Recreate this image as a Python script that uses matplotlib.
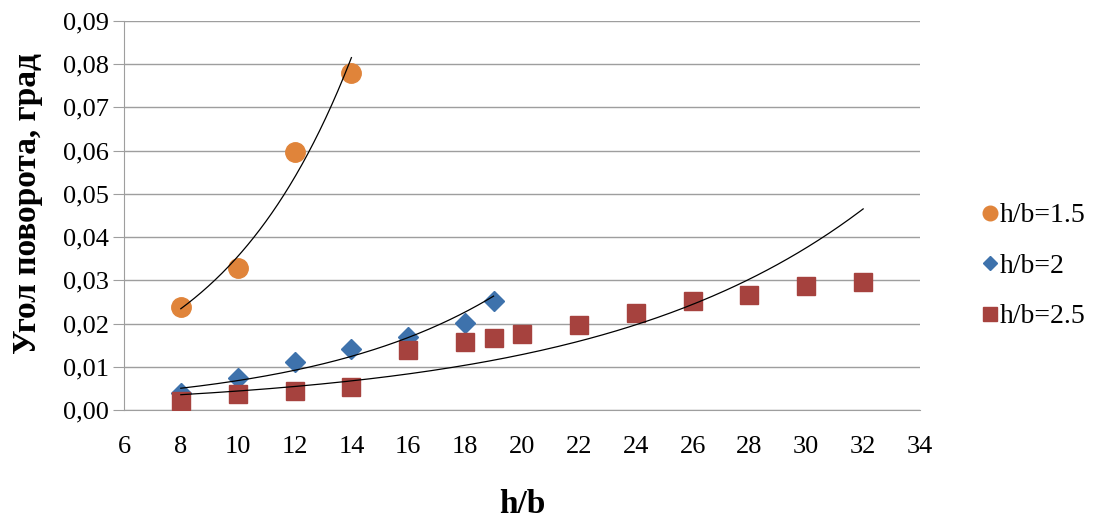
import matplotlib.pyplot as plt
import numpy as np

# h/b = 1.5
x_15 = [8, 10, 12, 14]
y_15 = [0.0238, 0.0329, 0.0597, 0.0780]

# h/b = 2
x_20 = [8, 10, 12, 14, 16, 18, 19]
y_20 = [0.0040, 0.0073, 0.0111, 0.0141, 0.0169, 0.0201, 0.0251]

# h/b = 2.5
x_25 = [8, 10, 12, 14, 16, 18, 19, 20, 22, 24, 26, 28, 30, 32]
y_25 = [0.0021, 0.0036, 0.0044, 0.0054, 0.0139, 0.0158, 0.0167, 0.0176,
        0.0196, 0.0225, 0.0252, 0.0265, 0.0288, 0.0297]

SERIES = [
    ("h/b=1.5", x_15, y_15, "o", "#E0843A", 14),
    ("h/b=2", x_20, y_20, "D", "#3E72AC", 10),
    ("h/b=2.5", x_25, y_25, "s", "#A6423E", 13),
]

plt.rcParams["font.family"] = ["Liberation Serif", "DejaVu Serif"]

fig = plt.figure(figsize=(10.95, 5.22), dpi=100)
ax = fig.add_axes([0.1132, 0.2146, 0.7270, 0.7452])

handles = []
for label, xs, ys, marker, color, size in SERIES:
    h, = ax.plot(xs, ys, linestyle="none", marker=marker, markersize=size,
                 color=color, markeredgecolor=color, label=label, zorder=3)
    handles.append(h)

# экспоненциальные линии тренда
for label, xs, ys, marker, color, size in SERIES:
    xs_arr = np.array(xs, dtype=float)
    k, b = np.polyfit(xs_arr, np.log(ys), 1)
    xx = np.linspace(xs_arr.min(), xs_arr.max(), 200)
    ax.plot(xx, np.exp(b + k * xx), color="black", linewidth=0.9, zorder=4)

ax.set_xlim(6, 34)
ax.set_ylim(0, 0.09)
ax.set_xticks(range(6, 35, 2))
ax.set_yticks(np.arange(0, 0.0901, 0.01))
ax.set_yticklabels([f"{v:.2f}".replace(".", ",") for v in np.arange(0, 0.0901, 0.01)])

ax.grid(axis="y", color="#9E9E9E", linewidth=1.0)
ax.set_axisbelow(True)
for side in ("top", "right"):
    ax.spines[side].set_visible(False)
ax.spines["left"].set_color("#9E9E9E")
ax.spines["bottom"].set_color("#9E9E9E")
ax.tick_params(axis="y", length=8, color="#9E9E9E", labelsize=19, pad=3)
ax.tick_params(axis="x", length=0, labelsize=19, pad=19)

ax.set_ylabel("Угол поворота, град", fontsize=24, fontweight="bold")
ax.yaxis.set_label_coords(-0.102, 0.53)
ax.set_xlabel("h/b", fontsize=24, fontweight="bold", labelpad=22)

fig.legend(handles=handles, loc="center left", bbox_to_anchor=(0.888, 0.49),
           frameon=False, fontsize=20, handlelength=0.5, handletextpad=0.1,
           labelspacing=0.9, markerscale=0.75, borderaxespad=0.0)

fig.savefig("out.png", dpi=100)
